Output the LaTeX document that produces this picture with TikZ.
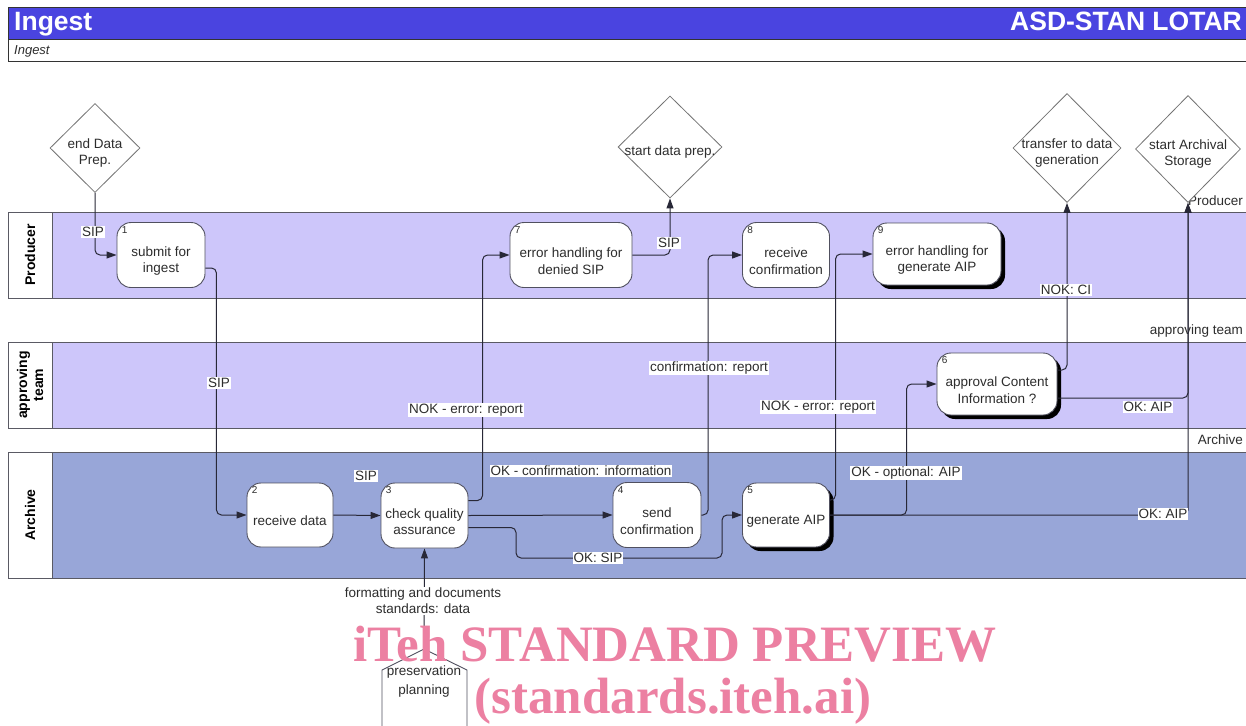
\documentclass[tikz,border=0pt]{standalone}
\usepackage{fontspec}
\setmainfont{Liberation Sans}
\newfontfamily\wmfont{Liberation Serif}
\usetikzlibrary{arrows.meta,shapes.geometric,shadows}
\definecolor{hdrblue}{RGB}{74,68,224}
\definecolor{lanelight}{RGB}{205,198,250}
\definecolor{lanedark}{RGB}{152,166,216}
\definecolor{linec}{RGB}{40,40,55}
\definecolor{txt}{RGB}{45,45,45}
\definecolor{bord}{RGB}{80,80,95}
\definecolor{lanebordc}{RGB}{90,90,100}
\definecolor{wmpink}{RGB}{236,128,162}
\newcommand\myfs[2]{\fontsize{#1pt}{#2pt}\selectfont}
\tikzset{
  proc/.style={draw=bord,line width=0.9pt,fill=white,rounded corners=14pt,inner sep=0pt},
  ptext/.style={align=center,font=\myfs{13.5}{16.5},text=txt,inner sep=0pt,yshift=-6pt},
  shad/.style={drop shadow={shadow xshift=4pt,shadow yshift=-4pt,fill=black,opacity=1}},
  term/.style={diamond,draw=black!55,line width=0.8pt,fill=white,inner sep=0pt},
  dtext/.style={align=center,font=\myfs{13.5}{16.5},text=txt,inner sep=0pt,yshift=-5pt},
  flow/.style={draw=linec,line width=1pt,rounded corners=5pt,-{Triangle[length=10pt,width=7pt]}},
  elab/.style={fill=white,inner sep=1pt,font=\myfs{13.5}{16},text=txt,align=center},
  num/.style={font=\myfs{10}{10},text=txt,inner sep=0pt,anchor=north west},
  lanetitle/.style={font=\bfseries\myfs{14}{16},rotate=90,align=center,text=black},
  laneright/.style={font=\myfs{13.5}{16},text=txt,anchor=base east,inner sep=0pt},
  lanebord/.style={draw=lanebordc,line width=1pt},
  wm/.style={font=\wmfont\bfseries\myfs{51}{56},text=wmpink,anchor=base,inner sep=0pt},
}
\begin{document}
\begin{tikzpicture}[x=1pt,y=-1pt]
\useasboundingbox (0,0) rectangle (1246,725);
\fill[white] (0,0) rectangle (1246,725);

% header
\fill[hdrblue] (8,7) rectangle (1250,39);
\draw[line width=0.9pt,draw=black!80] (1250,7) -- (8,7) -- (8,61) -- (1250,61);
\draw[line width=0.9pt,draw=black!80] (8,39) -- (1250,39);
\node[font=\bfseries\myfs{26.5}{30},text=white,anchor=base west,inner sep=0pt] (title) at (14,31) {Ingest};
\node[font=\bfseries\myfs{26.5}{30},text=white,anchor=base east,inner sep=0pt] (brand) at (1242,31) {ASD-STAN LOTAR};
\node[font=\itshape\myfs{13}{15},text=txt,anchor=base west,inner sep=0pt] (subtitle) at (14,55) {Ingest};

% lanes
\fill[lanelight] (52,212) rectangle (1250,298);
\fill[lanelight] (52,342) rectangle (1250,428);
\fill[lanedark] (52,452) rectangle (1250,578);
\foreach \ya/\yb in {212/298,342/428,452/578}{
  \draw[lanebord,fill=white] (8,\ya) rectangle (52,\yb);
  \draw[lanebord] (52,\ya) -- (1250,\ya);
  \draw[lanebord] (52,\yb) -- (1250,\yb);
}
\node[lanetitle] (lProd) at (30,255) {Producer};
\node[lanetitle] (lAppr) at (30,385) {approving\\team};
\node[lanetitle] (lArch) at (30,515) {Archive};
\node[laneright] (rProd) at (1243,205) {Producer};
\node[laneright] (rAppr) at (1243,334) {approving team};
\node[laneright] (rArch) at (1243,444) {Archive};

% terminals
\node[term,minimum width=90pt,minimum height=89pt,label={[dtext]center:{end Data\\Prep.}}] (dEnd) at (95,148) {};
\node[term,minimum width=104pt,minimum height=102pt,label={[dtext]center:{start data prep.}}] (dStart) at (670,147) {};
\node[term,minimum width=108pt,minimum height=109pt,label={[dtext]center:{transfer to data\\generation}}] (dTrans) at (1067,148) {};
\node[term,minimum width=105pt,minimum height=107pt,label={[dtext]center:{start Archival\\Storage}}] (dArch) at (1188,149) {};

% preservation planning
\draw[draw=bord,line width=0.9pt,fill=white] (382,730) -- (382,670) -- (424,649) -- (467,670) -- (467,730);
\coordinate (pp) at (424,649);
\node[align=center,font=\myfs{13.5}{19},text=txt,inner sep=0pt] (ppText) at (424,681) {preservation\\planning};

% processes
\node[proc,minimum width=88pt,minimum height=65pt,label={[ptext]center:{submit for\\ingest}}] (n1) at (161,255) {};
\node[proc,minimum width=86pt,minimum height=64pt,label={[ptext]center:{receive data}}] (n2) at (290,515) {};
\node[proc,minimum width=87pt,minimum height=65pt,label={[ptext]center:{check quality\\assurance}}] (n3) at (424.5,515.5) {};
\node[proc,minimum width=88pt,minimum height=65pt,label={[ptext]center:{send\\confirmation}}] (n4) at (657,515) {};
\node[proc,shad,minimum width=87pt,minimum height=64pt,label={[ptext]center:{generate AIP}}] (n5) at (786,515) {};
\node[proc,shad,minimum width=120pt,minimum height=62pt,label={[ptext]center:{approval Content\\Information ?}}] (n6) at (997,384) {};
\node[proc,minimum width=122pt,minimum height=65pt,label={[ptext]center:{error handling for\\denied SIP}}] (n7) at (571,255) {};
\node[proc,minimum width=87pt,minimum height=65pt,label={[ptext]center:{receive\\confirmation}}] (n8) at (786,255) {};
\node[proc,shad,minimum width=128pt,minimum height=62pt,label={[ptext]center:{error handling for\\generate AIP}}] (n9) at (937,254) {};

\foreach \n/\t in {n1/1,n2/2,n3/3,n4/4,n5/5,n6/6,n7/7,n8/8,n9/9}{
  \node[num] (num\n) at ([shift={(5pt,-4pt)}]\n.north west) {\t};
}

% connectors
\draw[flow] (dEnd.south) |- (n1.west);
\draw[flow] ([yshift=-13pt]n1.east) -- ++(11,0) |- (n2.west);
\draw[flow] (n2.east) -- (n3.west);
\draw[flow] ([yshift=15pt]n3.east) -| ([xshift=-27pt]n7.west) -- (n7.west);
\draw[flow] (n3.east) -- (n4.west);
\draw[flow] ([yshift=-12pt]n3.east) -| (516,558) -| ([xshift=-20pt]n5.west) -- (n5.west);
\draw[flow] (n4.east) -| ([xshift=-34pt]n8.west) -- (n8.west);
\draw[flow] ([yshift=15pt]n5.east) -| ([xshift=-37pt]n9.west) -- (n9.west);
\draw[flow] (n5.east) -| ([xshift=-30pt]n6.west) -- (n6.west);
\draw[flow] (n5.east) -| (dArch.south);
\draw[flow] ([yshift=-14pt]n6.east) -| (dArch.south);
\draw[flow] ([yshift=14pt]n6.east) -| (dTrans.south);
\draw[flow] (n7.east) -| (dStart.south);
\draw[flow] (pp) -- (n3.south);

% connector labels
\node[elab] (l1) at (93,232) {SIP};
\node[elab] (l2) at (219,383) {SIP};
\node[elab] (l3) at (366,476) {SIP};
\node[elab] (l4) at (466,410) {NOK - error: report};
\node[elab] (l5) at (581,471) {OK - confirmation: information};
\node[elab] (l6) at (598,558) {OK: SIP};
\node[elab] (l7) at (709,368) {confirmation: report};
\node[elab] (l8) at (818,407) {NOK - error: report};
\node[elab] (l9) at (906,473) {OK - optional: AIP};
\node[elab] (l10) at (1163,514) {OK: AIP};
\node[elab] (l11) at (1148,407) {OK: AIP};
\node[elab] (l12) at (1066,290) {NOK: CI};
\node[elab] (l13) at (669,243) {SIP};
\node[elab] (l14) at (423,601) {formatting and documents\\standards: data};

% watermark
\node[wm] (wm1) at (675,661) {iTeh STANDARD PREVIEW};
\node[wm] (wm2) at (673,713) {(standards.iteh.ai)};
\end{tikzpicture}
\end{document}
